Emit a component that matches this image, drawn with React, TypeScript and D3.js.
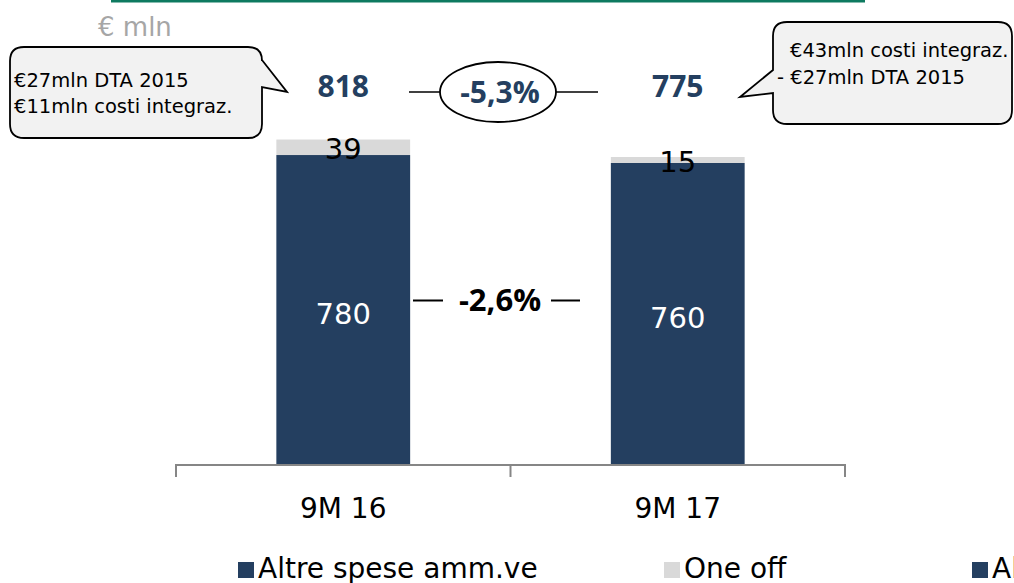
import React from "react";
import * as d3 from "d3";

const categories = ["9M 16", "9M 17"];
const altreSpese = [780, 760];
const oneOff = [39, 15];
const totals = [818, 775];
const seriesNames = ["Altre spese amm.ve", "One off"];
const seriesColors = ["#243f60", "#d9d9d9"];
const changeTotal = "-5,3%";
const changeBase = "-2,6%";
const calloutLeft = ["€27mln DTA 2015", "€11mln costi integraz."];
const calloutRight = ["€43mln costi integraz.", "- €27mln DTA 2015"];
const unitLabel = "€ mln";

const W = 1014;
const H = 583;
const SANS = "'DejaVu Sans', sans-serif";
const BOLD = "'Open Sans', 'DejaVu Sans', sans-serif";

export default function App() {
  const rows = categories.map((c, i) => ({ cat: c, altre: altreSpese[i], one: oneOff[i] }));
  const stack = d3.stack<any>().keys(["altre", "one"]);
  const series = stack(rows);

  const x = d3.scaleBand().domain(categories).range([176, 845]).padding(0);
  const y = d3.scaleLinear().domain([0, 1000]).range([465, 67.6]);
  const bw = x.bandwidth() * 0.4;
  const bx = (c: string) => (x(c) as number) + (x.bandwidth() - bw) / 2;
  const cx = (c: string) => (x(c) as number) + x.bandwidth() / 2;

  const r = 14;
  const lb = { x0: 10, x1: 262, y0: 47, y1: 138 };
  const lp = `M${lb.x0 + r},${lb.y0} H${lb.x1 - r} Q${lb.x1},${lb.y0} ${lb.x1},${lb.y0 + r} V60 L287,92 L${lb.x1},87 V${lb.y1 - r} Q${lb.x1},${lb.y1} ${lb.x1 - r},${lb.y1} H${lb.x0 + r} Q${lb.x0},${lb.y1} ${lb.x0},${lb.y1 - r} V${lb.y0 + r} Q${lb.x0},${lb.y0} ${lb.x0 + r},${lb.y0} Z`;
  const rb = { x0: 773, x1: 1012, y0: 22, y1: 124 };
  const rp = `M${rb.x0 + r},${rb.y0} H${rb.x1 - r} Q${rb.x1},${rb.y0} ${rb.x1},${rb.y0 + r} V${rb.y1 - r} Q${rb.x1},${rb.y1} ${rb.x1 - r},${rb.y1} H${rb.x0 + r} Q${rb.x0},${rb.y1} ${rb.x0},${rb.y1 - r} V93 L740,97 L${rb.x0},70 V${rb.y0 + r} Q${rb.x0},${rb.y0} ${rb.x0 + r},${rb.y0} Z`;

  const ticks = [176, ...categories.map((c) => (x(c) as number) + x.bandwidth())];

  return (
    <svg width={W} height={H} style={{ position: "absolute", left: 0, top: 0, background: "#fff" }} fontFamily={SANS}>
      <line x1={111} x2={865} y1={1} y2={1} stroke="#0e7a60" strokeWidth={3} />
      <text x={98} y={36} fontSize={26} fill="#a6a6a6">{unitLabel}</text>

      {series.map((s, si) =>
        s.map((d, i) => (
          <rect key={`${si}-${i}`} x={bx(categories[i])} width={bw} y={y(d[1])} height={y(d[0]) - y(d[1])} fill={seriesColors[si]} />
        ))
      )}

      {/* axis */}
      <line x1={176} x2={845} y1={465} y2={465} stroke="#868686" strokeWidth={2} />
      {ticks.map((t, i) => (
        <line key={i} x1={t} x2={t} y1={464} y2={477} stroke="#868686" strokeWidth={2} />
      ))}
      {categories.map((c) => (
        <text key={c} x={cx(c)} y={518} textAnchor="middle" fontSize={28} fill="#000">{c}</text>
      ))}

      {/* value labels */}
      {series[0].map((d, i) => (
        <text key={"a" + i} x={cx(categories[i])} y={(y(d[0]) + y(d[1])) / 2 + 14} textAnchor="middle" fontSize={29} fill="#fff">{altreSpese[i]}</text>
      ))}
      {series[1].map((d, i) => (
        <text key={"o" + i} x={cx(categories[i])} y={(y(d[0]) + y(d[1])) / 2 + 12} textAnchor="middle" fontSize={29} fill="#000">{oneOff[i]}</text>
      ))}
      {categories.map((c, i) => (
        <text key={"t" + c} x={cx(c)} y={97} textAnchor="middle" fontSize={30} fontWeight="bold" fontFamily={BOLD} fill="#243f60">{totals[i]}</text>
      ))}

      {/* total change */}
      <line x1={409} x2={440} y1={92} y2={92} stroke="#000" strokeWidth={1.5} />
      <line x1={556} x2={598} y1={92} y2={92} stroke="#000" strokeWidth={1.5} />
      <ellipse cx={498} cy={92} rx={58} ry={30} fill="#fff" stroke="#000" strokeWidth={1.8} />
      <text x={500} y={103} textAnchor="middle" fontSize={30} fontWeight="bold" fontFamily={BOLD} fill="#243f60">{changeTotal}</text>

      {/* base change */}
      <line x1={413} x2={443} y1={300.5} y2={300.5} stroke="#000" strokeWidth={2} />
      <line x1={551} x2={580} y1={300.5} y2={300.5} stroke="#000" strokeWidth={2} />
      <text x={500} y={311} textAnchor="middle" fontSize={31} fontWeight="bold" fontFamily={BOLD} fill="#000">{changeBase}</text>

      {/* callouts */}
      <path d={lp} fill="#f2f2f2" stroke="#000" strokeWidth={1.8} />
      {calloutLeft.map((t, i) => (
        <text key={t} x={14} y={87 + i * 26} fontSize={19.5} fill="#000">{t}</text>
      ))}
      <path d={rp} fill="#f2f2f2" stroke="#000" strokeWidth={1.8} />
      {calloutRight.map((t, i) => (
        <text key={t} x={i === 0 ? 790 : 777} y={57 + i * 27} fontSize={19.5} fill="#000">{t}</text>
      ))}

      {/* legend */}
      {[
        { name: seriesNames[0], color: seriesColors[0], x: 238 },
        { name: seriesNames[1], color: seriesColors[1], x: 664 },
        { name: seriesNames[0], color: seriesColors[0], x: 972 },
      ].map((l, i) => (
        <g key={i}>
          <rect x={l.x} y={562} width={16} height={16} fill={l.color} />
          <text x={l.x + 20} y={578} fontSize={28} fill="#000">{l.name}</text>
        </g>
      ))}
    </svg>
  );
}
